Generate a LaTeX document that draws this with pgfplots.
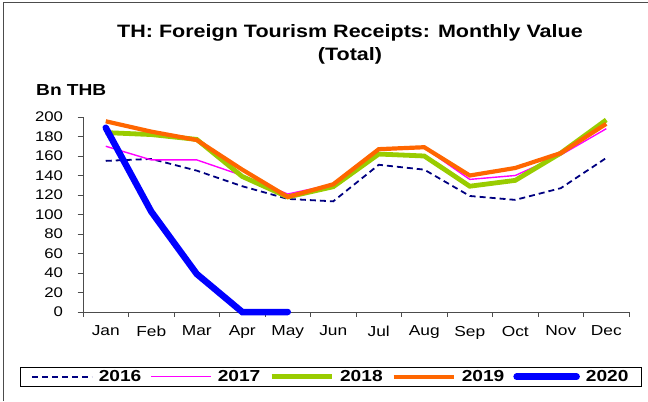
\documentclass[border=0pt]{standalone}
\usepackage{fontspec}
\setmainfont{Liberation Sans}[FakeStretch=1.2]
\usepackage{pgfplots}
\pgfplotsset{compat=1.18}
\definecolor{yrA}{RGB}{0,0,128}
\definecolor{yrB}{RGB}{255,0,255}
\definecolor{yrC}{RGB}{153,204,0}
\definecolor{yrD}{RGB}{255,102,0}
\definecolor{yrE}{RGB}{0,0,255}
\begin{document}
\begin{tikzpicture}[x=1bp,y=1bp]
\useasboundingbox (0,0) rectangle (648,401);
\draw[black!70, line width=1bp] (3,0) -- (3,398) -- (648,398);
\node[font=\bfseries\fontsize{18}{21}\selectfont, anchor=base] at (350,363.3) {TH: Foreign Tourism Receipts: Monthly Value};
\node[font=\bfseries\fontsize{18}{21}\selectfont, anchor=base] at (350,341) {(Total)};
\node[font=\bfseries\fontsize{16}{18}\selectfont, anchor=base west, inner sep=0pt] at (36,306) {Bn THB};
\begin{axis}[
  at={(83bp,89bp)}, anchor=south west,
  scale only axis, width=546bp, height=195bp,
  xmin=0.5, xmax=12.5, ymin=0, ymax=200,
  axis lines*=left,
  axis line style={black!70, line width=0.8bp},
  xtick={1,...,12},
  xticklabels={Jan,Feb,Mar,Apr,May,Jun,Jul,Aug,Sep,Oct,Nov,Dec},
  minor xtick={0.5,1.5,...,12.5},
  major x tick style={draw=none},
  minor tick length=4.5bp,
  ytick={0,20,...,200},
  major tick length=5.5bp,
  tick align=outside,
  tick style={black!70, line width=0.8bp},
  /pgf/number format/assume math mode=true,
  tick label style={font=\fontsize{14}{16}\selectfont},
  xticklabel style={yshift=-5bp, font=\fontsize{14.5}{16}\selectfont},
  yticklabel style={xshift=-11bp},
  legend style={at={(0.4537,-0.332)}, anchor=center, draw=black, line width=0.8bp,
    font=\bfseries\fontsize{16}{18}\selectfont, inner xsep=11bp, inner ysep=1bp},
  legend columns=5,
  legend cell align=left,
  legend image code/.code={\draw[#1] (0bp,0bp) -- (60bp,0bp);},
  /tikz/every odd column/.append style={column sep=4bp},
  /tikz/every even column/.append style={column sep=7bp},
  clip=false,
]
\addplot[color=yrA, line width=1.8bp, dash pattern=on 6bp off 4bp] coordinates {
(1,155) (2,157) (3,145) (4,129) (5,116) (6,113.5) (7,151) (8,146) (9,119) (10,115) (11,127) (12,158)};
\addlegendentry{2016}
\addplot[color=yrB, line width=1.4bp] coordinates {
(1,170) (2,156) (3,156) (4,140) (5,121) (6,131) (7,167) (8,168.5) (9,136) (10,140) (11,161) (12,188)};
\addlegendentry{2017}
\addplot[color=yrC, line width=4.8bp] coordinates {
(1,184) (2,182) (3,177) (4,139) (5,118) (6,128.5) (7,162) (8,160) (9,129) (10,135) (11,163) (12,197)};
\addlegendentry{2018}
\addplot[color=yrD, line width=4.2bp] coordinates {
(1,195.6) (2,185) (3,176.4) (4,146) (5,118) (6,131) (7,167) (8,169) (9,140) (10,147.7) (11,163) (12,193)};
\addlegendentry{2019}
\addplot[color=yrE, line width=6.5bp, line cap=round] coordinates {
(1,189) (2,103) (3,39) (4,0) (5,0)};
\addlegendentry{2020}
\end{axis}
\end{tikzpicture}
\end{document}
